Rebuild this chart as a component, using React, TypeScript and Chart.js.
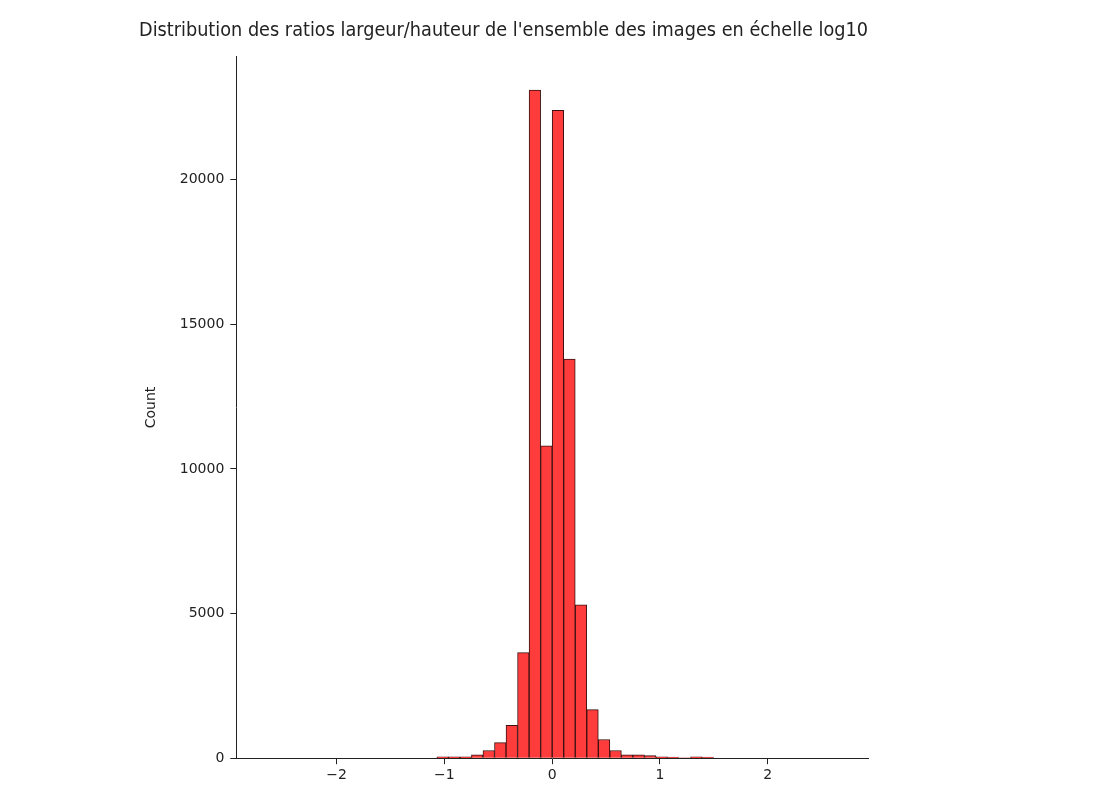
import React, { useRef, useEffect } from "react";
import { Chart, registerables } from "chart.js";

Chart.register(...registerables);

const binWidth = 0.107;
// bin index k covers [k*binWidth, (k+1)*binWidth)
const binStart = -27;
const counts = [
  0, 0, 0, 0, 0, 0, 0, 0, 0, 0, 0, 0, 0, 0, 0, 0, 0,
  50, 50, 50, 115, 265, 540, 1140, 3650, 23100, 10800,
  22400, 13800, 5300, 1680, 645, 265, 115, 115, 90, 45, 35, 10, 45, 35,
  0, 0, 0, 0, 0, 0, 0, 0, 0, 0, 0, 0, 0,
];
const xTicks = [-2, -1, 0, 1, 2];
const yTicks = [0, 5000, 10000, 15000, 20000];

const App: React.FC = () => {
  const canvasRef = useRef<HTMLCanvasElement | null>(null);

  useEffect(() => {
    if (!canvasRef.current) return;
    const points = counts.map((c, i) => ({
      x: (binStart + i + 0.5) * binWidth,
      y: c,
    }));
    const font = { family: "DejaVu Sans", size: 14 };
    const chart = new Chart(canvasRef.current, {
      type: "bar",
      data: {
        datasets: [
          {
            data: points,
            backgroundColor: "#ff3c3c",
            borderColor: "#3a1010",
            borderWidth: 1,
            barPercentage: 1,
            categoryPercentage: 1,
            grouped: false,
          },
        ],
      },
      options: {
        animation: false,
        responsive: false,
        layout: { padding: { left: 131, right: 238, top: 0, bottom: 9 } },
        plugins: {
          legend: { display: false },
          tooltip: { enabled: false },
          title: {
            display: true,
            text: "Distribution des ratios largeur/hauteur de l'ensemble des images en échelle log10",
            color: "#222",
            font: { family: "DejaVu Sans", size: 19, weight: "normal" },
            padding: { top: 12, bottom: 14 },
          },
        },
        scales: {
          x: {
            type: "linear",
            min: -2.93,
            max: 2.93,
            offset: false,
            afterBuildTicks: (s: any) => {
              s.ticks = xTicks.map((v) => ({ value: v }));
            },
            ticks: {
              color: "#222",
              font,
              callback: (v: any) => String(v).replace("-", "\u2212"),
            },
            grid: { offset: false, drawOnChartArea: false, drawTicks: true, tickLength: 6, color: "#222" },
            border: { color: "#222" },
          },
          y: {
            min: 0,
            max: 24250,
            afterBuildTicks: (s: any) => {
              s.ticks = yTicks.map((v) => ({ value: v }));
            },
            ticks: { color: "#222", font, padding: 6, callback: (v: any) => String(v) },
            title: { display: true, text: "Count", color: "#222", font, padding: { bottom: 14 } },
            grid: { drawOnChartArea: false, drawTicks: true, tickLength: 6, color: "#222" },
            border: { color: "#222" },
          },
        },
      },
    });
    return () => chart.destroy();
  }, []);

  return <canvas ref={canvasRef} width={1098} height={788} />;
};

export default App;
